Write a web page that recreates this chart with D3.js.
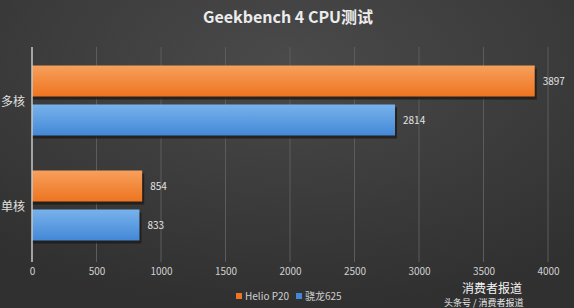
<html>
<head>
<meta charset="utf-8">
<script src="https://d3js.org/d3.v7.min.js"></script>
<style>
  body { margin: 0; padding: 0; background: #3a3a3a; }
  text { font-family: "Noto Sans CJK SC", "DejaVu Sans", sans-serif; }
</style>
</head>
<body>
<script>
// chart data
var categories = ["多核", "单核"];
var seriesNames = ["Helio P20", "骁龙625"];
var helioValues = [3897, 854];
var snapValues = [2814, 833];
var tickValues = [0, 500, 1000, 1500, 2000, 2500, 3000, 3500, 4000];

var w = 574, h = 308;
var colors = { "Helio P20": ["#f7a05c", "#ee7420"], "骁龙625": ["#78b2ec", "#4388d6"] };

var svg = d3.select("body").append("svg")
    .attr("width", w).attr("height", h);

var defs = svg.append("defs");
var bg = defs.append("radialGradient").attr("id", "bg")
    .attr("cx", "50%").attr("cy", "20%").attr("r", "80%");
bg.append("stop").attr("offset", "0%").attr("stop-color", "#4a4a4a");
bg.append("stop").attr("offset", "100%").attr("stop-color", "#303030");

seriesNames.forEach(function(s, i) {
    var g = defs.append("linearGradient").attr("id", "grad" + i)
        .attr("x1", 0).attr("y1", 0).attr("x2", 0).attr("y2", 1);
    g.append("stop").attr("offset", "0%").attr("stop-color", colors[s][0]);
    g.append("stop").attr("offset", "100%").attr("stop-color", colors[s][1]);
});

svg.append("rect").attr("width", w).attr("height", h).attr("fill", "url(#bg)");

// scales
var x = d3.scaleLinear().domain([0, 4000]).range([32, 548]);
var y0 = d3.scaleBand().domain(categories).range([48, 258]);
var y1 = d3.scaleBand().domain(seriesNames).range([0, y0.bandwidth()])
    .paddingInner(0.205).paddingOuter(0.449);

// gridlines
svg.append("g").selectAll("line")
    .data(tickValues.slice(1))
    .enter().append("line")
    .attr("x1", function(d) { return x(d); })
    .attr("x2", function(d) { return x(d); })
    .attr("y1", 47).attr("y2", 262)
    .attr("stroke", "#5c5c5c").attr("stroke-width", 1);

// title
svg.append("text")
    .attr("x", 288).attr("y", 23)
    .attr("text-anchor", "middle")
    .attr("fill", "#ececec")
    .attr("font-size", 16).attr("font-weight", "bold")
    .text("Geekbench 4 CPU测试");

var rows = categories.map(function(c, i) {
    return { cat: c, vals: [
        { name: seriesNames[0], value: helioValues[i], idx: 0 },
        { name: seriesNames[1], value: snapValues[i], idx: 1 }
    ]};
});

var group = svg.selectAll(".grp").data(rows).enter().append("g")
    .attr("class", "grp")
    .attr("transform", function(d) { return "translate(0," + y0(d.cat) + ")"; });

// shadow
group.selectAll(".shadow").data(function(d) { return d.vals; })
    .enter().append("rect")
    .attr("x", x(0))
    .attr("y", function(d) { return y1(d.name) + 3; })
    .attr("width", function(d) { return x(d.value) - x(0) + 2; })
    .attr("height", y1.bandwidth())
    .attr("fill", "#1e1a18").attr("opacity", 0.8);

group.selectAll(".bar").data(function(d) { return d.vals; })
    .enter().append("rect")
    .attr("class", "bar")
    .attr("x", x(0))
    .attr("y", function(d) { return y1(d.name); })
    .attr("width", function(d) { return x(d.value) - x(0); })
    .attr("height", y1.bandwidth())
    .attr("fill", function(d) { return "url(#grad" + d.idx + ")"; });

// value labels
group.selectAll(".val").data(function(d) { return d.vals; })
    .enter().append("text")
    .attr("x", function(d) { return x(d.value) + 8; })
    .attr("y", function(d) { return y1(d.name) + y1.bandwidth() / 2 + 4; })
    .attr("fill", "#e4e4e4").attr("font-size", 10)
    .text(function(d) { return d.value; });

// category labels
svg.selectAll(".cat").data(categories).enter().append("text")
    .attr("x", 25)
    .attr("y", function(d) { return y0(d) + y0.bandwidth() / 2 + 5; })
    .attr("text-anchor", "end")
    .attr("fill", "#e0e0e0").attr("font-size", 12)
    .text(function(d) { return d; });

// axis line at 0
svg.append("line")
    .attr("x1", x(0)).attr("x2", x(0)).attr("y1", 47).attr("y2", 262)
    .attr("stroke", "#c8c8c8").attr("stroke-width", 1.5);

// x axis labels
var xAxis = d3.axisBottom(x).tickValues(tickValues).tickSize(0).tickPadding(0)
    .tickFormat(d3.format("d"));
var ax = svg.append("g").attr("transform", "translate(0,268)").call(xAxis);
ax.select(".domain").remove();
ax.selectAll("text")
    .attr("fill", "#d0d0d0").attr("font-size", 10);

// legend
var legend = svg.append("g").attr("transform", "translate(236,291)");
var lx = [0, 60];
seriesNames.forEach(function(s, i) {
    legend.append("rect").attr("x", lx[i]).attr("y", 2).attr("width", 6).attr("height", 6)
        .attr("fill", colors[s][1]);
    legend.append("text").attr("x", lx[i] + 9).attr("y", 9)
        .attr("fill", "#cfcfcf").attr("font-size", 10)
        .text(s);
});

// watermark
svg.append("text").attr("x", 462).attr("y", 293)
    .attr("fill", "#f4f4f4").attr("font-size", 12)
    .text("消费者报道");
svg.append("text").attr("x", 444).attr("y", 306)
    .attr("fill", "#e8e8e8").attr("font-size", 9)
    .text("头条号 / 消费者报道");
</script>
</body>
</html>
